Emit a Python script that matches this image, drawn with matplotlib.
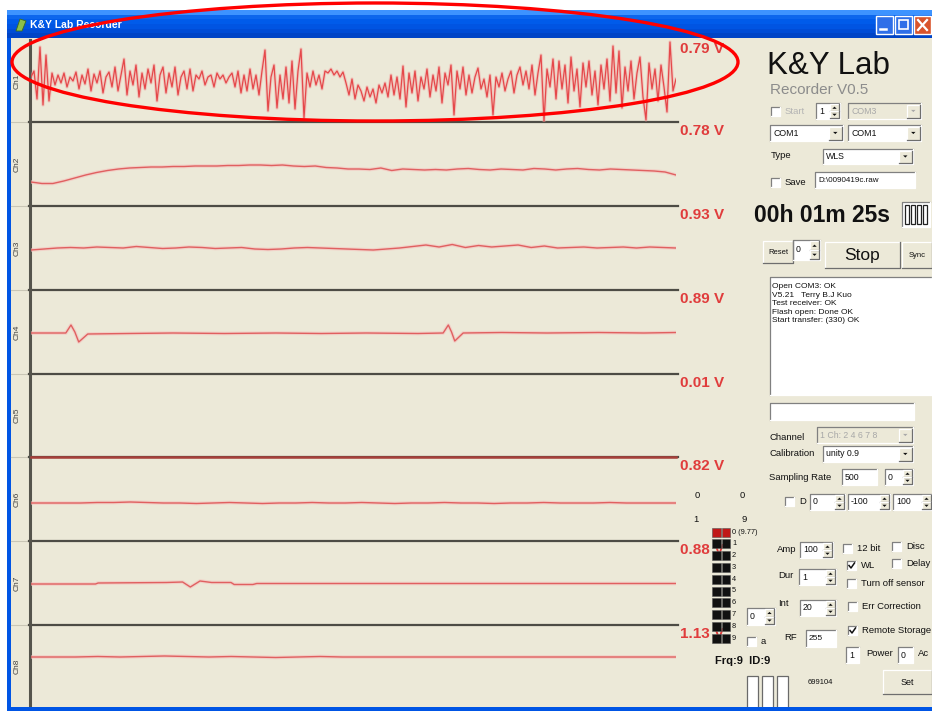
import numpy as np
import matplotlib
matplotlib.use("Agg")
import matplotlib.pyplot as plt
from matplotlib.patches import Rectangle, Ellipse, Polygon

plt.rcParams['font.family'] = ['Liberation Sans', 'DejaVu Sans']

W, H = 932, 711

# ---- data ----
channel_names = ["Ch1", "Ch2", "Ch3", "Ch4", "Ch5", "Ch6", "Ch7", "Ch8"]
channel_volts = ["0.79 V", "0.78 V", "0.93 V", "0.89 V", "0.01 V", "0.82 V", "0.88 V", "1.13 V"]
window_s = 10.0

# trace offsets from strip centre (screen pixels, up = positive)
ch1 = [4, 10, -18, 34, -24, 26, -20, 8, -4, 6, -2, 8, -6, 4, 0, 9, -8, 6, -3, 12,
       -10, 7, -2, 10, -12, 4, 9, -6, 14, -10, 6, 22, -14, 10, -4, 16, -16, 8, -8, 12,
       -2, 16, -20, 6, 14, -12, 8, -6, 14, -14, 4, 10, -8, 12, -10, 6, 2, 10, -4, 4,
       6, -6, 8, 2, 6, -2, 4, 8, -6, 10, -12, 6,
       -10, 12, -8, 6, -14, 10, 31, -30, 4, 16, -27, 6, -18, 14, -22, 20, -28, 10, 32, -37,
       8, -6, 10, -4, 6, -8, 10, 8, 12, 6, 10, 4, 9, -2, -14, 2, -18, -4, -10, -20,
       -6, -16, -8, -22, -4, -12, -2, -16, 6, -14, 4, -18, 15, -26, 8, -12, 10, -20, 4, -8,
       12, -16, 6, -10, 14, -22, 8, -4, 16, -34, 10, -8, 14, -14,
       6, -12, 4, 13, -8, 2, -16, 6, -34, 4, -6, 8, -10, 2, 10, -12, 6, 14, -4, 10,
       -8, 16, -14, 8, 26, -40, 12, -6, 22, -18, 20, -8, 16, -22, 24, -10, 12, -26, 18, -6,
       20, -14, 10, -24, 16, -8, 22, -20, 35, -12, 30, -27, 14, -10, 20, -18, 8, 24, -16, -39,
       18, -8, 12, -20, 16, -6, -31, 39, -10, 2]
ch2 = [-18, -19.5, -19.5, -17, -14, -11, -8.5, -6.5, -5, -4,
       -3.5, -3, -3, -2.5, -2.5, -2, -2, -2, -1.5, -1.5,
       -1, -1, -1.5, -1, -2, -2.5, -2, -3.5, -4, -5,
       -5, -5.5, -4, -6.5, -5, -5.5, -6, -5.5, -6, -5,
       -4.5, -5.5, -6, -5, -5.5, -6, -4.5, -5, -6, -5,
       -4.5, -5.5, -6, -5, -5.5, -6, -6.5, -7, -8, -11]
ch3 = [-2, -1, 0, 0.5, 0, 1, 0.5, 0, 1.5, 0.5, -0.5, 0, 1, 0.5, -0.5, 0, 0.5, -1, -1.5, -1,
       0, 0.5, 0, -0.5, -1, -1.5, -2, -1, 0, 1.5, 3, 1, 3.5, 0.5, 2.5, 1, 2, 3, 0.5, 2,
       0, 0.5, 1, 0, 0.5, 1, 0, 1, 0.5, 0]
ch4_t = [0, 0.5, 0.54, 0.62, 0.68, 0.74, 0.88, 1.5, 2.2, 3.0, 3.8, 4.5, 5.2, 6.0,
         6.39, 6.47, 6.52, 6.57, 6.70, 7.3, 8.0, 8.8, 9.5, 10]
ch4 = [-1, -1, -1, 7, 0, -10, -2, -1.5, -1, -1.5, -1, -1.5, -1, -1.5,
       -1, 7, 0, -9, -1, -0.5, -1, -0.5, -1, -0.5]
ch5 = [-41.5, -41.5]
ch6 = [-4, -4, -4, -4, -3.5, -3.5, -3, -3.5, -4, -4, -4.5, -4, -3.5, -4, -4.5, -4, -4, -3.5, -4, -4,
       -3.5, -4, -4.5, -4, -4, -3.5, -4, -4, -4.5, -4, -4, -3.5, -4, -4, -4, -3.5, -4, -4, -4, -4]
ch7_t = [0, 1.0, 1.04, 2.1, 2.35, 2.47, 2.62, 2.8, 3.1, 3.15, 3.44, 3.5, 6.0, 10]
ch7 = [-1, -1, 0, 0.5, 1, -4, 2, 0.5, 0.5, -1.5, -1.5, -0.5, -0.5, -0.5]
ch8 = [9, 9, 9, 9.5, 9, 9.5, 10, 9.5, 9, 9.5, 9, 8.5, 9, 9.5, 9,
       9, 9, 9, 9, 9, 9, 9, 9, 9, 9, 9, 9, 9, 9, 9]

log_lines = ["Open COM3: OK", "V5.21   Terry B.J Kuo", "Test receiver: OK",
             "Flash open: Done OK", "Start transfer: (330) OK"]
led_labels = ["0 (9.77)", "1", "2", "3", "4", "5", "6", "7", "8", "9"]

traces = [(None, ch1), (None, ch2), (None, ch3), (ch4_t, ch4),
          (None, ch5), (None, ch6), (ch7_t, ch7), (None, ch8)]

# strip borders in screen rows
strip_edges = [40, 122, 206, 290, 374, 457, 541, 625, 707]
BEIGE = '#ece9d8'

fig = plt.figure(figsize=(W / 100, H / 100), dpi=100, facecolor=BEIGE)

# background / window frame
bg = fig.add_axes([0, 0, 1, 1], zorder=0)
bg.set_xlim(0, W)
bg.set_ylim(H, 0)
bg.axis('off')
bg.add_patch(Rectangle((0, 0), W, H, fc='white', ec='none'))
bg.add_patch(Rectangle((7, 10), W - 7, H - 10, fc='#0055e5', ec='none'))
bg.add_patch(Rectangle((11, 38), W - 11, 669, fc=BEIGE, ec='none'))
grad = np.array([[0.24, 0.58, 1.0], [0.05, 0.40, 0.93], [0.0, 0.36, 0.92],
                 [0.0, 0.33, 0.89], [0.0, 0.30, 0.84], [0.0, 0.27, 0.78]])
bg.imshow(grad[:, None, :], extent=(7, W, 38, 10), aspect='auto', zorder=1)
bg.set_xlim(0, W)
bg.set_ylim(H, 0)
bg.text(30, 25, "K&Y Lab Recorder", color='white', fontsize=7.5, weight='bold', va='center', zorder=3)
bg.add_patch(Polygon([(16, 31), (20, 19), (26, 21), (22, 31)], fc='#8cc04a', ec='#3d6b1c', lw=0.6, zorder=3))
for bx, fc in [(876, '#2f6fe8'), (895, '#2f6fe8'), (914, '#d9542c')]:
    bg.add_patch(Rectangle((bx, 16), 17, 18, fc=fc, ec='white', lw=1, zorder=3))
bg.plot([880, 886], [29, 29], color='white', lw=1.8, zorder=4)
bg.add_patch(Rectangle((899, 20), 9, 9, fc='none', ec='white', lw=1.2, zorder=4))
bg.plot([918, 927], [20, 30], color='white', lw=1.6, zorder=4)
bg.plot([918, 927], [30, 20], color='white', lw=1.6, zorder=4)

for y in strip_edges[1:-1]:
    bg.plot([11, 29], [y, y], color='#c9c6b6', lw=0.8, zorder=2)
    bg.plot([29, 678], [y, y], color='#4d4c45', lw=1.6, zorder=2)
bg.plot([29.5, 29.5], [40, 707], color='#55544c', lw=2.2, zorder=2)
for name, top, bot in zip(channel_names, strip_edges[:-1], strip_edges[1:]):
    bg.text(17, (top + bot) / 2, name, rotation=90, fontsize=6, color='#444444',
            ha='center', va='center', zorder=3)

# channel strips
for i, (t, v) in enumerate(traces):
    top, bot = strip_edges[i], strip_edges[i + 1]
    h = bot - top
    ax = fig.add_axes([31 / W, 1 - bot / H, 645 / W, h / H], zorder=2)
    ax.set_facecolor('none')
    ax.axis('off')
    if t is None:
        t = np.linspace(0, window_s, len(v))
    if i == 0:
        ax.plot(t, v, color='#f4a0a0', lw=2.4, alpha=0.45)
        ax.plot(t, v, color='#e5484a', lw=0.9)
    elif i == 4:
        ax.plot(t, v, color='#a8403a', lw=1.8, clip_on=False)
    else:
        ax.plot(t, v, color='#f6c0bc', lw=2.6, alpha=0.6)
        ax.plot(t, v, color='#e06060', lw=1.0)
    ax.set_xlim(0, window_s)
    ax.set_ylim(-h / 2, h / 2)

# control panel overlay
ov = fig.add_axes([0, 0, 1, 1], zorder=3)
ov.set_facecolor('none')
ov.set_xlim(0, W)
ov.set_ylim(H, 0)
ov.axis('off')


def txt(x, y, s, fs=6.8, color='#111111', z=6, **kw):
    ov.text(x, y, s, fontsize=fs, color=color, va='center', zorder=z, **kw)


def box(x, y, w, h, fc='white', z=4):
    ov.add_patch(Rectangle((x, y), w, h, fc=fc, ec='none', zorder=z))
    ov.plot([x, x, x + w], [y + h, y, y], color='#808080', lw=0.9, zorder=z + 0.1)
    ov.plot([x, x + w, x + w], [y + h, y + h, y], color='white', lw=0.9, zorder=z + 0.1)


def button(x, y, w, h, label='', fs=6.5, z=4, **kw):
    ov.add_patch(Rectangle((x, y), w, h, fc=BEIGE, ec='none', zorder=z))
    ov.plot([x, x, x + w], [y + h, y, y], color='white', lw=0.9, zorder=z + 0.1)
    ov.plot([x, x + w, x + w], [y + h, y + h, y], color='#6e6e6e', lw=0.9, zorder=z + 0.1)
    if label:
        ov.text(x + w / 2, y + h / 2 + 0.5, label, fontsize=fs, ha='center', va='center',
                color='#111111', zorder=z + 0.2, **kw)


def arrow(cx, cy, up, color='#111111', z=5):
    s = 2.2
    if up:
        pts = [(cx - s, cy + s / 2), (cx + s, cy + s / 2), (cx, cy - s / 2)]
    else:
        pts = [(cx - s, cy - s / 2), (cx + s, cy - s / 2), (cx, cy + s / 2)]
    ov.add_patch(Polygon(pts, fc=color, ec='none', zorder=z))


def spin(x, y, w, h, val):
    box(x, y, w, h)
    txt(x + 3, y + h / 2, val, fs=6.3)
    bw = 9
    button(x + w - bw - 1, y + 1, bw, h / 2 - 1, z=4.3)
    button(x + w - bw - 1, y + h / 2, bw, h / 2 - 1, z=4.3)
    arrow(x + w - bw / 2 - 1, y + h / 4 + 0.7, True)
    arrow(x + w - bw / 2 - 1, y + 3 * h / 4 - 0.2, False)


def combo(x, y, w, h, val, enabled=True):
    box(x, y, w, h, fc='white' if enabled else BEIGE)
    col = '#111111' if enabled else '#a8a8a8'
    txt(x + 3, y + h / 2, val, fs=6.3, color=col)
    button(x + w - 14, y + 1.5, 12.5, h - 3, z=4.3)
    arrow(x + w - 7.7, y + h / 2, False, color=col)


def check(x, y, label='', checked=False, s=9, color='#111111'):
    box(x, y, s, s)
    if checked:
        ov.plot([x + 2, x + 4, x + 7.5], [y + 4.5, y + 7, y + 2], color='#111111', lw=1.1, zorder=5)
    if label:
        txt(x + s + 5, y + s / 2, label, color=color)


txt(767, 66, "K&Y Lab", fs=22.5)
txt(770, 90, "Recorder V0.5", fs=11, color='#8c8c8c')
check(771, 107, 'Start', color='#b4b4b4')
spin(816, 103, 24, 16, '1')
combo(848, 103, 73, 16, 'COM3', enabled=False)
combo(770, 125, 73, 16, 'COM1')
combo(848, 125, 73, 16, 'COM1')
txt(771, 155, 'Type')
combo(823, 149, 90, 15, 'WLS')
check(771, 178, 'Save')
box(815, 172, 100, 16)
txt(818, 180, 'D:\\0090419c.raw', fs=5.8)
txt(754, 215, '00h 01m 25s', fs=16.5, weight='bold')
box(902, 202, 28, 25)
for bx in [905, 911, 917, 923]:
    ov.add_patch(Rectangle((bx, 205), 4, 19, fc='white', ec='#222222', lw=0.9, zorder=5))

button(763, 241, 30, 22, 'Reset', fs=5.5)
spin(793, 240, 27, 20, '0')
button(825, 242, 75, 26, 'Stop', fs=12.5)
button(902, 242, 30, 26, 'Sync', fs=5.5)
box(770, 277, 162, 118)
for k, line in enumerate(log_lines):
    txt(772, 287 + 8.4 * k, line, fs=6)
box(770, 403, 144, 17)
txt(770, 437, 'Channel')
combo(817, 427, 96, 16, '1 Ch: 2 4 6 7 8', enabled=False)
txt(770, 453, 'Calibration')
combo(823, 446, 90, 16, 'unity 0.9')
txt(769, 477, 'Sampling Rate')
box(842, 469, 35, 16)
txt(845, 477, '500', fs=6.3)
spin(885, 469, 28, 16, '0')
check(785, 497, 'D')
spin(810, 494, 35, 16, '0')
spin(848, 494, 42, 16, '-100')
spin(893, 494, 39, 16, '100')
txt(695, 496, '0')
txt(740, 496, '0')
txt(693, 520, '1')
txt(742, 520, '9')

for top, label in zip(strip_edges[:-1], channel_volts):
    txt(680, top + 9, label, fs=11, color='#e03c3c', weight='bold', z=5)

for i, lab in enumerate(led_labels):
    yc = 532 + 11.8 * i
    fc = '#c01818' if i == 0 else '#111111'
    for lx in [712, 721.5]:
        ov.add_patch(Rectangle((lx, yc - 4.5), 8.5, 9, fc=fc, ec='#555555', lw=0.4, zorder=7))
    txt(732, yc, lab, fs=5.3, z=7)

txt(777, 550, 'Amp')
spin(800, 542, 33, 16, '100')
check(843, 544, '12 bit')
check(892, 542, 'Disc')
check(847, 561, 'WL', checked=True)
check(892, 559, 'Delay')
txt(778, 576, 'Dur')
spin(799, 569, 37, 16, '1')
check(847, 579, 'Turn off sensor')
txt(778, 604, 'Int')
spin(800, 600, 36, 16, '20')
spin(747, 608, 28, 17, '0')
check(848, 602, 'Err Correction')
check(747, 637, 'a')
txt(784, 637, 'RF')
box(806, 630, 30, 17)
txt(809, 639, '255', fs=6)
check(848, 626, 'Remote Storage', checked=True)
box(846, 647, 13, 16)
txt(849, 655, '1', fs=6.3)
txt(866, 653, 'Power')
box(898, 647, 15, 16)
txt(901, 655, '0', fs=6.3)
txt(918, 653, 'Ac')
txt(715, 661, 'Frq:9  ID:9', fs=8, weight='bold')
for rx in [747, 762, 777]:
    ov.add_patch(Rectangle((rx, 676), 11, 34, fc='white', ec='#6a6a6a', lw=0.9, zorder=5))
txt(808, 683, '699104', fs=5.5)
button(883, 670, 49, 24, 'Set', fs=6.5)

# bottom window edge
ov.add_patch(Rectangle((7, 707), W - 7, 4, fc='#0055e5', ec='none', zorder=9))

# red highlight ellipse around Ch1
ov.add_patch(Ellipse((375, 62), 726, 118, fill=False, ec='#ff0000', lw=2.4, zorder=10))

fig.savefig('out.png', dpi=100, facecolor=fig.get_facecolor())
